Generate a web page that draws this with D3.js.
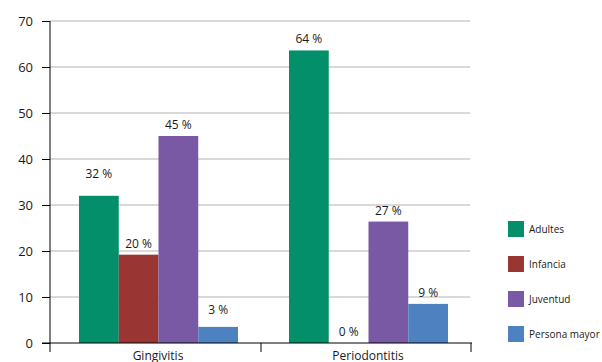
<!DOCTYPE html>
<html><head><meta charset="utf-8">
<script src="https://cdn.jsdelivr.net/npm/d3@7"></script>
<style>body{margin:0;background:#fff}svg{display:block;font-family:"Open Sans",sans-serif}</style>
</head><body><svg width="602" height="362"></svg>
<script>
const categories = ["Gingivitis", "Periodontitis"];
const series = ["Adultes", "Infancia", "Juventud", "Persona mayor"];
const adultes = [32, 63.6];
const infancia = [19.2, 0];
const juventud = [45, 26.4];
const personaMayor = [3.5, 8.5];
const labelsAdultes = ["32 %", "64 %"];
const labelsInfancia = ["20 %", "0 %"];
const labelsJuventud = ["45 %", "27 %"];
const labelsPersona = ["3 %", "9 %"];
const yTicks = [0, 10, 20, 30, 40, 50, 60, 70];
const colors = ["#038f6a", "#993533", "#7a59a4", "#4d81bf"];

(function () {
const values = [adultes, infancia, juventud, personaMayor];
const labels = [labelsAdultes, labelsInfancia, labelsJuventud, labelsPersona];

const svg = d3.select("svg");
const pl = 50, pr = 470, pt = 21, pb = 343;
const y = d3.scaleLinear().domain([0, 70]).range([pb, pt]);
const x0 = d3.scaleBand().domain(categories).range([pl, pr]);
const x1 = d3.scaleBand().domain(series).range([29, 188]);
const color = d3.scaleOrdinal().domain(series).range(colors);

// gridlines
svg.append("g").selectAll("line").data(yTicks.filter(t => t > 0)).join("line")
  .attr("x1", pl).attr("x2", pr)
  .attr("y1", d => y(d)).attr("y2", d => y(d))
  .attr("stroke", "#b4b4b4").attr("stroke-width", 1.2);

// bars
const rows = [];
series.forEach((s, si) => categories.forEach((c, ci) => rows.push({s, c, v: values[si][ci], l: labels[si][ci]})));
svg.append("g").selectAll("rect").data(rows).join("rect")
  .attr("x", d => x0(d.c) + x1(d.s))
  .attr("width", x1.bandwidth())
  .attr("y", d => y(d.v))
  .attr("height", d => y(0) - y(d.v))
  .attr("fill", d => color(d.s));

// value labels
const extraLift = {"32 %": 11, "3 %": 6};
svg.append("g").selectAll("text").data(rows).join("text")
  .attr("x", d => x0(d.c) + x1(d.s) + x1.bandwidth() / 2)
  .attr("y", d => y(d.v) - 7 - (extraLift[d.l] || 0))
  .attr("text-anchor", "middle")
  .attr("font-size", 12).attr("fill", "#1a1a1a")
  .text(d => d.l);

// y axis
const yAxis = svg.append("g").attr("transform", `translate(${pl},0)`)
  .call(d3.axisLeft(y).tickValues(yTicks).tickSize(8).tickPadding(9).tickFormat(d3.format("d")));
yAxis.select(".domain").remove();
yAxis.selectAll("text").attr("font-size", 13).attr("font-family", "Open Sans, sans-serif").attr("fill", "#1a1a1a");
yAxis.selectAll("line").attr("stroke", "#000");
svg.append("line").attr("x1", pl).attr("x2", pl).attr("y1", pt).attr("y2", pb + 9).attr("stroke", "#000");

// x axis
svg.append("line").attr("x1", pl - 8).attr("x2", pr + 2).attr("y1", pb).attr("y2", pb).attr("stroke", "#000");
const bounds = categories.map(c => x0(c)).concat([x0(categories[categories.length - 1]) + x0.bandwidth()]);
svg.append("g").selectAll("line").data(bounds.slice(1)).join("line")
  .attr("x1", d => d + 1).attr("x2", d => d + 1)
  .attr("y1", pb).attr("y2", pb + 9).attr("stroke", "#000");
svg.append("g").selectAll("text").data(categories).join("text")
  .attr("x", d => x0(d) + x0.bandwidth() / 2 + 3)
  .attr("y", pb + 17)
  .attr("text-anchor", "middle").attr("font-size", 12).attr("fill", "#1a1a1a")
  .text(d => d);

// legend
const lg = svg.append("g").attr("transform", "translate(508,221)");
const item = lg.selectAll("g").data(series).join("g")
  .attr("transform", (d, i) => `translate(0,${i * 35})`);
item.append("rect").attr("width", 16).attr("height", 16).attr("fill", d => color(d));
item.append("text").attr("x", 21).attr("y", 8).attr("dy", "0.35em")
  .attr("font-size", 10).attr("fill", "#1a1a1a").text(d => d);
})();
</script></body></html>
